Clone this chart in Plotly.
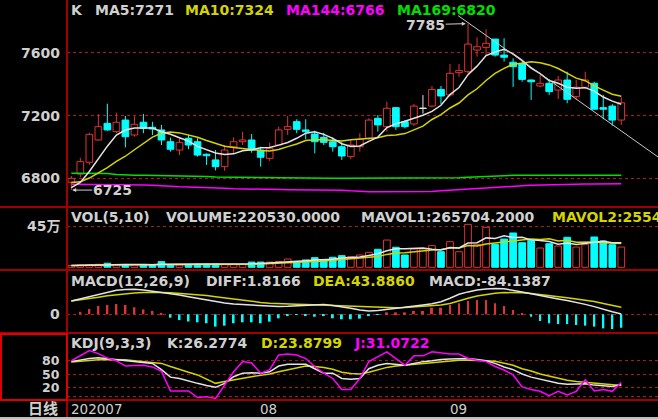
import plotly.graph_objects as go
import pandas as pd

# ---------------- data ----------------
opens = [6775, 6827, 6902, 7044, 7150, 7097, 7171, 7076, 7157, 7125,
         7108, 7033, 6980, 7055, 7033, 6953, 6917, 6874, 7001, 7033,
         7044, 6980, 6927, 7012, 7112, 7161, 7108, 7082, 7061, 7033,
         7001, 6938, 7001, 7055, 7182, 7129, 7250, 7161, 7146, 7246,
         7260, 7366, 7331, 7473, 7479, 7617, 7634, 7687, 7585, 7539,
         7532, 7426, 7388, 7405, 7362, 7426, 7320, 7380, 7405, 7250,
         7260, 7171]
highs = [6815, 6931, 7090, 7208, 7275, 7218, 7197, 7195, 7210, 7160,
         7140, 7059, 7059, 7076, 7055, 6958, 6980, 7012, 7061, 7097,
         7082, 7001, 7027, 7129, 7197, 7176, 7176, 7103, 7090, 7061,
         7029, 7044, 7087, 7182, 7203, 7288, 7250, 7171, 7273, 7330,
         7388, 7388, 7528, 7528, 7785, 7698, 7749, 7687, 7692, 7564,
         7545, 7430, 7458, 7430, 7452, 7479, 7426, 7479, 7415, 7331,
         7273, 7316]
lows = [6725, 6806, 6885, 7040, 7103, 7087, 6997, 7065, 7087, 7076,
        7012, 6970, 6948, 6985, 6938, 6885, 6850, 6848, 6959, 7012,
        6963, 6874, 6910, 7008, 7076, 7087, 7048, 6959, 7012, 6970,
        6917, 6921, 6970, 7044, 7097, 7097, 7108, 7118, 7133, 7212,
        7252, 7273, 7320, 7447, 7469, 7575, 7585, 7575, 7543, 7382,
        7415, 7299, 7380, 7331, 7305, 7278, 7303, 7367, 7238, 7176,
        7135, 7140]
closes = [6800, 6906, 7080, 7129, 7108, 7157, 7065, 7144, 7118, 7114,
          7044, 6985, 7029, 7012, 6948, 6944, 6874, 6980, 7033, 7044,
          6980, 6934, 6991, 7108, 7129, 7112, 7097, 7033, 7029, 7001,
          6942, 7012, 7048, 7171, 7140, 7246, 7129, 7129, 7260, 7246,
          7366, 7324, 7469, 7486, 7655, 7638, 7660, 7585, 7571, 7511,
          7430, 7415, 7405, 7352, 7426, 7303, 7380, 7426, 7240, 7240,
          7171, 7281]
volumes = [20000, 25000, 30000, 33000, 44000, 28000, 28000, 25000, 28000, 30000,
           62000, 30000, 25000, 30000, 33000, 33000, 35000, 33000, 33000, 33000,
           57000, 57000, 57000, 62000, 90000, 62000, 80000, 105000, 80000, 109000,
           127000, 116000, 134000, 163000, 196000, 297000, 218000, 134000, 199000, 199000,
           236000, 170000, 279000, 170000, 468000, 250000, 436000, 250000, 308000, 374000,
           268000, 294000, 210000, 257000, 232000, 327000, 221000, 250000, 330000, 287000,
           246000, 220530]
# closes before the visible window (estimated from where MA5/MA10 start)
pre_closes = [6860, 6840, 6800, 6770, 6760, 6740, 6730, 6720, 6710]
ma144 = [6762, 6762, 6762, 6761, 6761, 6760, 6760, 6759, 6758, 6756,
         6752, 6748, 6746, 6745, 6744, 6742, 6740, 6737, 6734, 6732,
         6731, 6730, 6729, 6728, 6727, 6727, 6726, 6726, 6725, 6725,
         6724, 6720, 6716, 6715, 6715, 6715, 6715, 6715, 6715, 6715,
         6716, 6720, 6724, 6728, 6732, 6736, 6740, 6743, 6746, 6749,
         6752, 6755, 6757, 6758, 6760, 6761, 6762, 6763, 6764, 6765,
         6765, 6766]
ma169 = [6832, 6832, 6831, 6831, 6830, 6824, 6821, 6820, 6820, 6819,
         6819, 6818, 6818, 6817, 6816, 6812, 6808, 6807, 6807, 6806,
         6806, 6806, 6806, 6805, 6805, 6804, 6803, 6802, 6801, 6800,
         6800, 6800, 6800, 6800, 6800, 6800, 6800, 6800, 6800, 6800,
         6800, 6800, 6801, 6803, 6806, 6809, 6812, 6815, 6817, 6819,
         6819, 6820, 6820, 6820, 6820, 6820, 6820, 6820, 6820, 6820,
         6820, 6820]
diff_vals = [83, 97, 110, 126, 140, 150, 155, 156, 152, 145,
             137, 129, 121, 110, 100, 90, 79, 71, 64, 61,
             58, 53, 48, 49, 50, 54, 58, 60, 62, 55,
             48, 38, 27, 21, 24, 30, 37, 45, 52, 58,
             66, 79, 100, 125, 140, 152, 158, 162, 160, 152,
             140, 128, 116, 106, 96, 86, 75, 62, 48, 30,
             16, 1.8166]
dea_vals = [83, 90, 96, 106, 116, 123, 129, 133, 136, 137,
            137, 134, 131, 128, 125, 118, 110, 102, 94, 86,
            79, 74, 69, 66, 64, 63, 62, 60, 58, 56,
            53, 50, 47, 45, 43, 42, 41, 43, 46, 50,
            53, 58, 68, 85, 100, 114, 123, 131, 136, 137,
            134, 130, 124, 118, 110, 103, 95, 88, 80, 68,
            56, 43.886]
macd_vals = [0, 16, 33, 52, 58, 64, 58, 44, 31, 21,
             6, -21, -36, -45, -50, -56, -77, -71, -56, -50,
             -50, -56, -46, -25, -11, -4, -11, -15, -11, -25,
             -31, -31, -27, -11, -4, 12, 12, 12, 21, 21,
             41, 41, 58, 69, 83, 89, 89, 69, 52, 27,
             6, -15, -42, -56, -61, -61, -67, -71, -77, -88,
             -92, -84.1387]
k_vals = [78, 82, 85, 87, 85, 83, 81, 78, 76, 74,
          60, 43, 40, 34, 29, 24, 20, 29, 44, 52,
          53, 52, 55, 68, 72, 72, 72, 62, 52, 52,
          40, 38, 40, 62, 70, 74, 72, 70, 74, 78,
          80, 83, 84, 85, 85, 83, 80, 74, 66, 60,
          50, 43, 38, 33, 29, 27, 27, 28, 25, 24,
          22, 26.2774]
d_vals = [77, 79, 80, 82, 83, 83, 82, 80, 78, 76,
          74, 67, 60, 54, 48, 38, 29, 33, 37, 40,
          44, 47, 50, 55, 59, 63, 68, 67, 65, 61,
          54, 51, 50, 54, 59, 65, 68, 70, 71, 74,
          76, 78, 80, 81, 81, 81, 80, 79, 75, 70,
          62, 57, 50, 45, 40, 36, 33, 31, 29, 27,
          25, 23.8799]
j_vals = [80, 92, 103, 96, 86, 80, 68, 69, 70, 66,
          56, 12, 12, 12, -3, -1, -5, 25, 55, 78,
          75, 52, 60, 93, 95, 93, 85, 67, 52, 40,
          15, 15, 40, 78, 89, 100, 85, 70, 91, 91,
          100, 97, 95, 95, 85, 81, 78, 67, 59, 48,
          21, 15, 11, 1, 11, 3, 11, 37, 12, 15,
          11, 31.0722]
date_labels = ["202007", "08", "09"]
date_label_pos = [0, 21, 42]
price_ticks = [6800, 7200, 7600]
vol_ticks = [450000]
vol_tick_text = ["45万"]
macd_ticks = [0]
kdj_label_ticks = [20, 50, 80]
kdj_grid_ticks = [0, 20, 50, 80]
trend_x = [42.9, 65.1]
trend_y = [7836, 6935]
# indicator readouts as printed in the picture's panel titles
title_ma5, title_ma10, title_ma144, title_ma169 = "7271", "7324", "6766", "6820"
title_vol, title_mavol1, title_mavol2 = "220530.0000", "265704.2000", "255497.5000"

# ---------------- derived series ----------------
n = len(closes)
idx = list(range(n))
full = pd.Series(pre_closes + closes, dtype=float)
ma5 = full.rolling(5).mean().iloc[len(pre_closes):].tolist()
ma10 = full.rolling(10).mean().iloc[len(pre_closes):].tolist()
vs = pd.Series(volumes, dtype=float)
mavol1 = vs.rolling(5, min_periods=1).mean().tolist()
mavol2 = vs.rolling(10, min_periods=1).mean().tolist()
hi_i = max(idx, key=lambda i: highs[i])
lo_i = min(idx, key=lambda i: lows[i])

# ---------------- style ----------------
W, H = 658, 419
RED = "#E03434"
CYAN = "#00FFFF"
WHITE = "#E4E4E4"
YELLOW = "#D4D400"
MAG = "#FF00FF"
GREEN = "#00E000"
GRID = "#B01818"
SEP = "#A00000"
TXT = "#D0D0D0"
FONT = "DejaVu Sans, Noto Sans CJK SC"


def fy(px):
    return 1 - px / H


def fx(px):
    return px / W


fig = go.Figure()

# ---- price panel ----
for series, col in ((ma144, MAG), (ma169, GREEN)):
    fig.add_trace(go.Scatter(x=idx, y=series, mode="lines",
                             line=dict(color=col, width=1.5), xaxis="x", yaxis="y"))

wick = {RED: ([], []), CYAN: ([], []), WHITE: ([], [])}
body_base, body_h, body_fill, body_line = [], [], [], []
for i in idx:
    o, h, l, c = opens[i], highs[i], lows[i], closes[i]
    top, bot = max(o, c), min(o, c)
    if c > o:
        col = RED
        wick[col][0].extend([i, i, None, i, i, None])
        wick[col][1].extend([h, top, None, bot, l, None])
        body_fill.append("#000000")
        body_line.append(RED)
    elif c < o:
        col = CYAN
        wick[col][0].extend([i, i, None])
        wick[col][1].extend([h, l, None])
        body_fill.append(CYAN)
        body_line.append(CYAN)
    else:
        col = WHITE
        wick[col][0].extend([i, i, None])
        wick[col][1].extend([h, l, None])
        body_fill.append(WHITE)
        body_line.append(WHITE)
    hgt = top - bot
    if hgt < 3:
        bot -= 1.5
        hgt = 3
    body_base.append(bot)
    body_h.append(hgt)

for col, (wx, wy) in wick.items():
    fig.add_trace(go.Scatter(x=wx, y=wy, mode="lines", line=dict(color=col, width=1),
                             xaxis="x", yaxis="y"))
fig.add_trace(go.Bar(x=idx, y=body_h, base=body_base, width=0.74,
                     marker=dict(color=body_fill, line=dict(color=body_line, width=1)),
                     xaxis="x", yaxis="y"))
fig.add_trace(go.Scatter(x=idx, y=ma10, mode="lines", line=dict(color=YELLOW, width=1.5),
                         xaxis="x", yaxis="y"))
fig.add_trace(go.Scatter(x=idx, y=ma5, mode="lines", line=dict(color=WHITE, width=1.5),
                         xaxis="x", yaxis="y"))
fig.add_trace(go.Scatter(x=trend_x, y=trend_y, mode="lines", line=dict(color="#C8C8C8", width=1),
                         xaxis="x", yaxis="y"))

# ---- volume panel ----
vfill = ["#000000" if closes[i] >= opens[i] else CYAN for i in idx]
vline = [RED if closes[i] >= opens[i] else CYAN for i in idx]
fig.add_trace(go.Bar(x=idx, y=volumes, width=0.74,
                     marker=dict(color=vfill, line=dict(color=vline, width=1)),
                     xaxis="x2", yaxis="y2"))
fig.add_trace(go.Scatter(x=idx, y=mavol2, mode="lines", line=dict(color=YELLOW, width=1.5),
                         xaxis="x2", yaxis="y2"))
fig.add_trace(go.Scatter(x=idx, y=mavol1, mode="lines", line=dict(color=WHITE, width=1.5),
                         xaxis="x2", yaxis="y2"))

# ---- MACD panel ----
mcol = [RED if v >= 0 else CYAN for v in macd_vals]
fig.add_trace(go.Bar(x=idx, y=macd_vals, width=0.22, marker=dict(color=mcol, line=dict(width=0)),
                     xaxis="x3", yaxis="y3"))
fig.add_trace(go.Scatter(x=idx, y=dea_vals, mode="lines", line=dict(color=YELLOW, width=1.5),
                         xaxis="x3", yaxis="y3"))
fig.add_trace(go.Scatter(x=idx, y=diff_vals, mode="lines", line=dict(color=WHITE, width=1.5),
                         xaxis="x3", yaxis="y3"))

# ---- KDJ panel ----
for series, col in ((d_vals, YELLOW), (k_vals, WHITE), (j_vals, MAG)):
    fig.add_trace(go.Scatter(x=idx, y=series, mode="lines", line=dict(color=col, width=1.5),
                             xaxis="x4", yaxis="y4"))

# ---------------- axes ----------------
xr = [-0.477, 65.07]
xdom = [fx(67), 1]
common_x = dict(range=xr, domain=xdom, visible=False, fixedrange=True)


def yax(dom, rng, grid):
    return dict(domain=dom, range=rng, tickvals=grid, showticklabels=False, ticks="",
                showgrid=True, gridcolor=GRID, griddash="dot", gridwidth=1,
                zeroline=False, showline=False, fixedrange=True)


layout = dict(
    width=W, height=H, margin=dict(l=0, r=0, t=0, b=0),
    paper_bgcolor="#000000", plot_bgcolor="#000000",
    showlegend=False, barmode="overlay", hovermode=False,
    xaxis=dict(common_x, anchor="y"),
    xaxis2=dict(common_x, anchor="y2", matches="x"),
    xaxis3=dict(common_x, anchor="y3", matches="x"),
    xaxis4=dict(common_x, anchor="y4", matches="x"),
    yaxis=yax([fy(207), 1], [6617.2, 7935.7], price_ticks),
    yaxis2=yax([fy(270), fy(207)], [-29400, 657000], vol_ticks),
    yaxis3=yax([fy(333), fy(270)], [-116.9, 276.9], macd_ticks),
    yaxis4=yax([fy(400), fy(333)], [-8.57, 142.6], kdj_grid_ticks),
)
fig.update_layout(**layout)

# ---------------- annotations ----------------
ann = []


def seg(text, x_px, y_px, color, size=14, bold=True):
    ann.append(dict(text=text, x=fx(x_px), y=fy(y_px), xref="paper", yref="paper",
                    xanchor="left", yanchor="middle", showarrow=False, borderpad=0,
                    font=dict(family=FONT, size=size, color=color, weight=700 if bold else 400)))


seg("K", 70, 10, TXT)
seg("MA5:" + title_ma5, 94, 10, TXT)
seg("MA10:" + title_ma10, 184, 10, YELLOW)
seg("MA144:" + title_ma144, 285, 10, MAG)
seg("MA169:" + title_ma169, 396, 10, GREEN)

seg("VOL(5,10)", 70, 217.5, TXT)
seg("VOLUME:" + title_vol, 165, 217.5, TXT)
seg("MAVOL1:" + title_mavol1, 360, 217.5, TXT)
seg("MAVOL2:" + title_mavol2, 551, 217.5, YELLOW)

seg("MACD(12,26,9)", 70, 281, TXT)
seg("DIFF:%.4f" % diff_vals[-1], 205, 281, TXT)
seg("DEA:%.4f" % dea_vals[-1], 312, 281, YELLOW)
seg("MACD:%.4f" % macd_vals[-1], 428, 281, TXT)

seg("KDJ(9,3,3)", 70, 343, TXT)
seg("K:%.4f" % k_vals[-1], 166, 343, TXT)
seg("D:%.4f" % d_vals[-1], 260, 343, YELLOW)
seg("J:%.4f" % j_vals[-1], 353, 343, MAG)


def ylabel(text, val, yref, size=14):
    ann.append(dict(text=text, x=fx(60.5), y=val, xref="paper", yref=yref,
                    xanchor="right", yanchor="middle", showarrow=False, borderpad=0,
                    font=dict(family=FONT, size=size, color=TXT, weight=700)))


for v in price_ticks:
    ylabel(str(v), v, "y")
for v, t in zip(vol_ticks, vol_tick_text):
    ylabel(t, v, "y2")
for v in macd_ticks:
    ylabel(str(v), v, "y3")
for v in kdj_label_ticks:
    ylabel(str(v), v, "y4", size=12.5)

for t, p in zip(date_labels, date_label_pos):
    ann.append(dict(text=t, x=p - 0.15, y=fy(409), xref="x4", yref="paper",
                    xanchor="left", yanchor="middle", showarrow=False, borderpad=0,
                    font=dict(family=FONT, size=13.5, color=TXT)))
ann.append(dict(text="日线", x=fx(59), y=fy(409), xref="paper", yref="paper",
                xanchor="right", yanchor="middle", showarrow=False, borderpad=0,
                font=dict(family=FONT, size=15, color=TXT, weight=700)))

# high / low markers
ann.append(dict(text=str(highs[hi_i]), x=hi_i - 0.25, y=highs[hi_i], xref="x", yref="y",
                showarrow=True, arrowhead=2, arrowsize=0.8, arrowwidth=1, arrowcolor=TXT,
                ax=-40, ay=1, borderpad=0,
                font=dict(family=FONT, size=14, color=TXT, weight=700)))
ann.append(dict(text=str(lows[lo_i]), x=lo_i + 0.1, y=lows[lo_i], xref="x", yref="y",
                showarrow=True, arrowhead=2, arrowsize=0.8, arrowwidth=1, arrowcolor=TXT,
                ax=40, ay=0, borderpad=0,
                font=dict(family=FONT, size=14, color=TXT, weight=700)))

fig.update_layout(annotations=ann)

# ---------------- frame lines ----------------
shapes = []
for ypx in (207, 270, 333, 400):
    shapes.append(dict(type="line", xref="paper", yref="paper", x0=0, x1=1,
                       y0=fy(ypx), y1=fy(ypx), line=dict(color=SEP, width=2)))
shapes.append(dict(type="line", xref="paper", yref="paper", x0=fx(67), x1=fx(67),
                   y0=0, y1=1, line=dict(color=SEP, width=2)))
shapes.append(dict(type="rect", xref="paper", yref="paper", x0=fx(1), x1=fx(67),
                   y0=fy(400), y1=fy(334), line=dict(color="#E00000", width=2)))
shapes.append(dict(type="line", xref="paper", yref="paper", x0=0, x1=1,
                   y0=fy(418), y1=fy(418), line=dict(color="#BDBDBD", width=2)))
fig.update_layout(shapes=shapes)

fig.write_html("out.html", config={"displayModeBar": False},
               post_script="document.body.style.margin='0';document.body.style.background='#000';")
